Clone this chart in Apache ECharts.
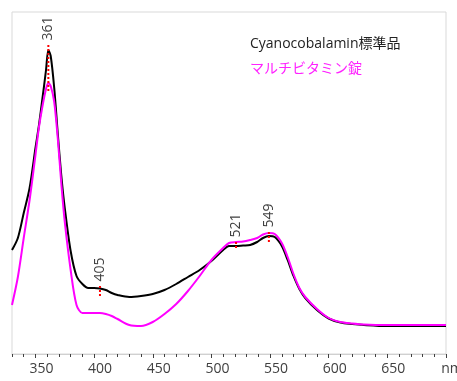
<!DOCTYPE html>
<html>
<head>
<meta charset="utf-8">
<script src="https://cdn.jsdelivr.net/npm/echarts@6/dist/echarts.min.js"></script>
<style>
html,body{margin:0;padding:0;background:#fff;}
#c{width:457px;height:381px;}
</style>
</head>
<body>
<div id="c"></div>
<script>
// Wavelengths (nm)
var wavelengths = [330,335,340,345,350,353,356,359,361,363,366,369,372,375,380,385,390,395,400,405,410,415,420,430,440,450,460,470,480,490,500,510,515,521,527,533,539,544,549,554,560,565,570,575,580,590,600,610,620,630,650,670,700];
// Cyanocobalamin standard (black)
var standardValues = [1.04,1.16,1.41,1.66,2.06,2.29,2.56,2.84,3.04,2.98,2.66,2.21,1.79,1.46,1.03,0.78,0.70,0.66,0.66,0.655,0.64,0.61,0.59,0.57,0.58,0.60,0.64,0.70,0.77,0.84,0.93,1.04,1.08,1.08,1.085,1.09,1.12,1.16,1.18,1.17,1.08,0.94,0.78,0.65,0.56,0.44,0.355,0.315,0.30,0.29,0.28,0.28,0.28];
// Multivitamin tablet (magenta)
var tabletValues = [0.49,0.77,1.16,1.54,1.99,2.27,2.48,2.65,2.71,2.68,2.52,2.16,1.71,1.32,0.84,0.49,0.41,0.41,0.41,0.41,0.40,0.38,0.35,0.29,0.28,0.32,0.40,0.50,0.63,0.78,0.94,1.06,1.11,1.12,1.125,1.14,1.16,1.195,1.21,1.20,1.11,0.97,0.80,0.66,0.57,0.45,0.36,0.32,0.305,0.295,0.29,0.29,0.29];
// Peak markers
var peakWavelengths = [361,405,521,549];
var peakTop = [3.09,0.68,1.12,1.22];
var peakBottom = [2.62,0.58,1.04,1.10];
// Axis tick labels
var majorTicks = [350,400,450,500,550,600,650,700];
var seriesNames = ['Cyanocobalamin標準品','マルチビタミン錠'];

function pairs(xs, ys){ return xs.map(function(x,i){ return [x, ys[i]]; }); }

var FONT = '"Open Sans","Noto Sans CJK JP",sans-serif';
var series = [
  {name: seriesNames[0], type:'line', data: pairs(wavelengths, standardValues), smooth:0.3, showSymbol:false,
   lineStyle:{color:'#000', width:2}, itemStyle:{color:'#000'}, z:2},
  {name: seriesNames[1], type:'line', data: pairs(wavelengths, tabletValues), smooth:0.3, showSymbol:false,
   lineStyle:{color:'#ff00ff', width:2}, itemStyle:{color:'#ff00ff'}, z:3}
];
peakWavelengths.forEach(function(w,i){
  series.push({
    type:'line', z:4,
    data:[
      {value:[w, peakTop[i]], label:{show:true, formatter: String(w), position:'top', distance:4, rotate:90, align:'left', verticalAlign:'middle', color:'#404040', fontSize:14, fontFamily:FONT}},
      {value:[w, peakBottom[i]]}
    ],
    symbol:'circle', symbolSize:1, showSymbol:true,
    itemStyle:{color:'rgba(0,0,0,0)'},
    lineStyle:{color:'#ff0000', width:2, type:[2,2]},
    label:{show:false}
  });
});

var chart = echarts.init(document.getElementById('c'), null, {renderer:'canvas'});
chart.setOption({
  animation:false,
  backgroundColor:'#fff',
  grid:{left:12, right:11, top:12, bottom:27, show:true, borderColor:'#d9d9d9', borderWidth:1, containLabel:false, outerBoundsMode:'none'},
  xAxis:[{
    type:'value', min:330, max:700,
    axisLine:{show:true, lineStyle:{color:'#d0d0d0', width:1}},
    axisTick:{show:true, customValues: majorTicks, length:4, lineStyle:{color:'#404040'}},
    axisLabel:{show:true, customValues: majorTicks, formatter:function(v){ return v===700 ? 'nm' : String(v); },
      color:'#404040', fontSize:14, fontFamily:FONT, margin:8, padding:[0,0,0,12], hideOverlap:false},
    splitLine:{show:false}
  },{
    type:'value', min:330, max:700, interval:10, position:'bottom',
    axisLine:{show:false},
    axisTick:{show:true, length:3, lineStyle:{color:'#404040'}},
    axisLabel:{show:false}, splitLine:{show:false}
  }],
  yAxis:{type:'value', min:0, max:3.42, show:false, splitLine:{show:false}},
  graphic:[
    {type:'text', left:250, top:37, style:{text:seriesNames[0], fill:'#222', font:'14px '+FONT}},
    {type:'text', left:250, top:62, style:{text:seriesNames[1], fill:'#ff22ff', font:'14px '+FONT}}
  ],
  series: series
});
</script>
</body>
</html>
